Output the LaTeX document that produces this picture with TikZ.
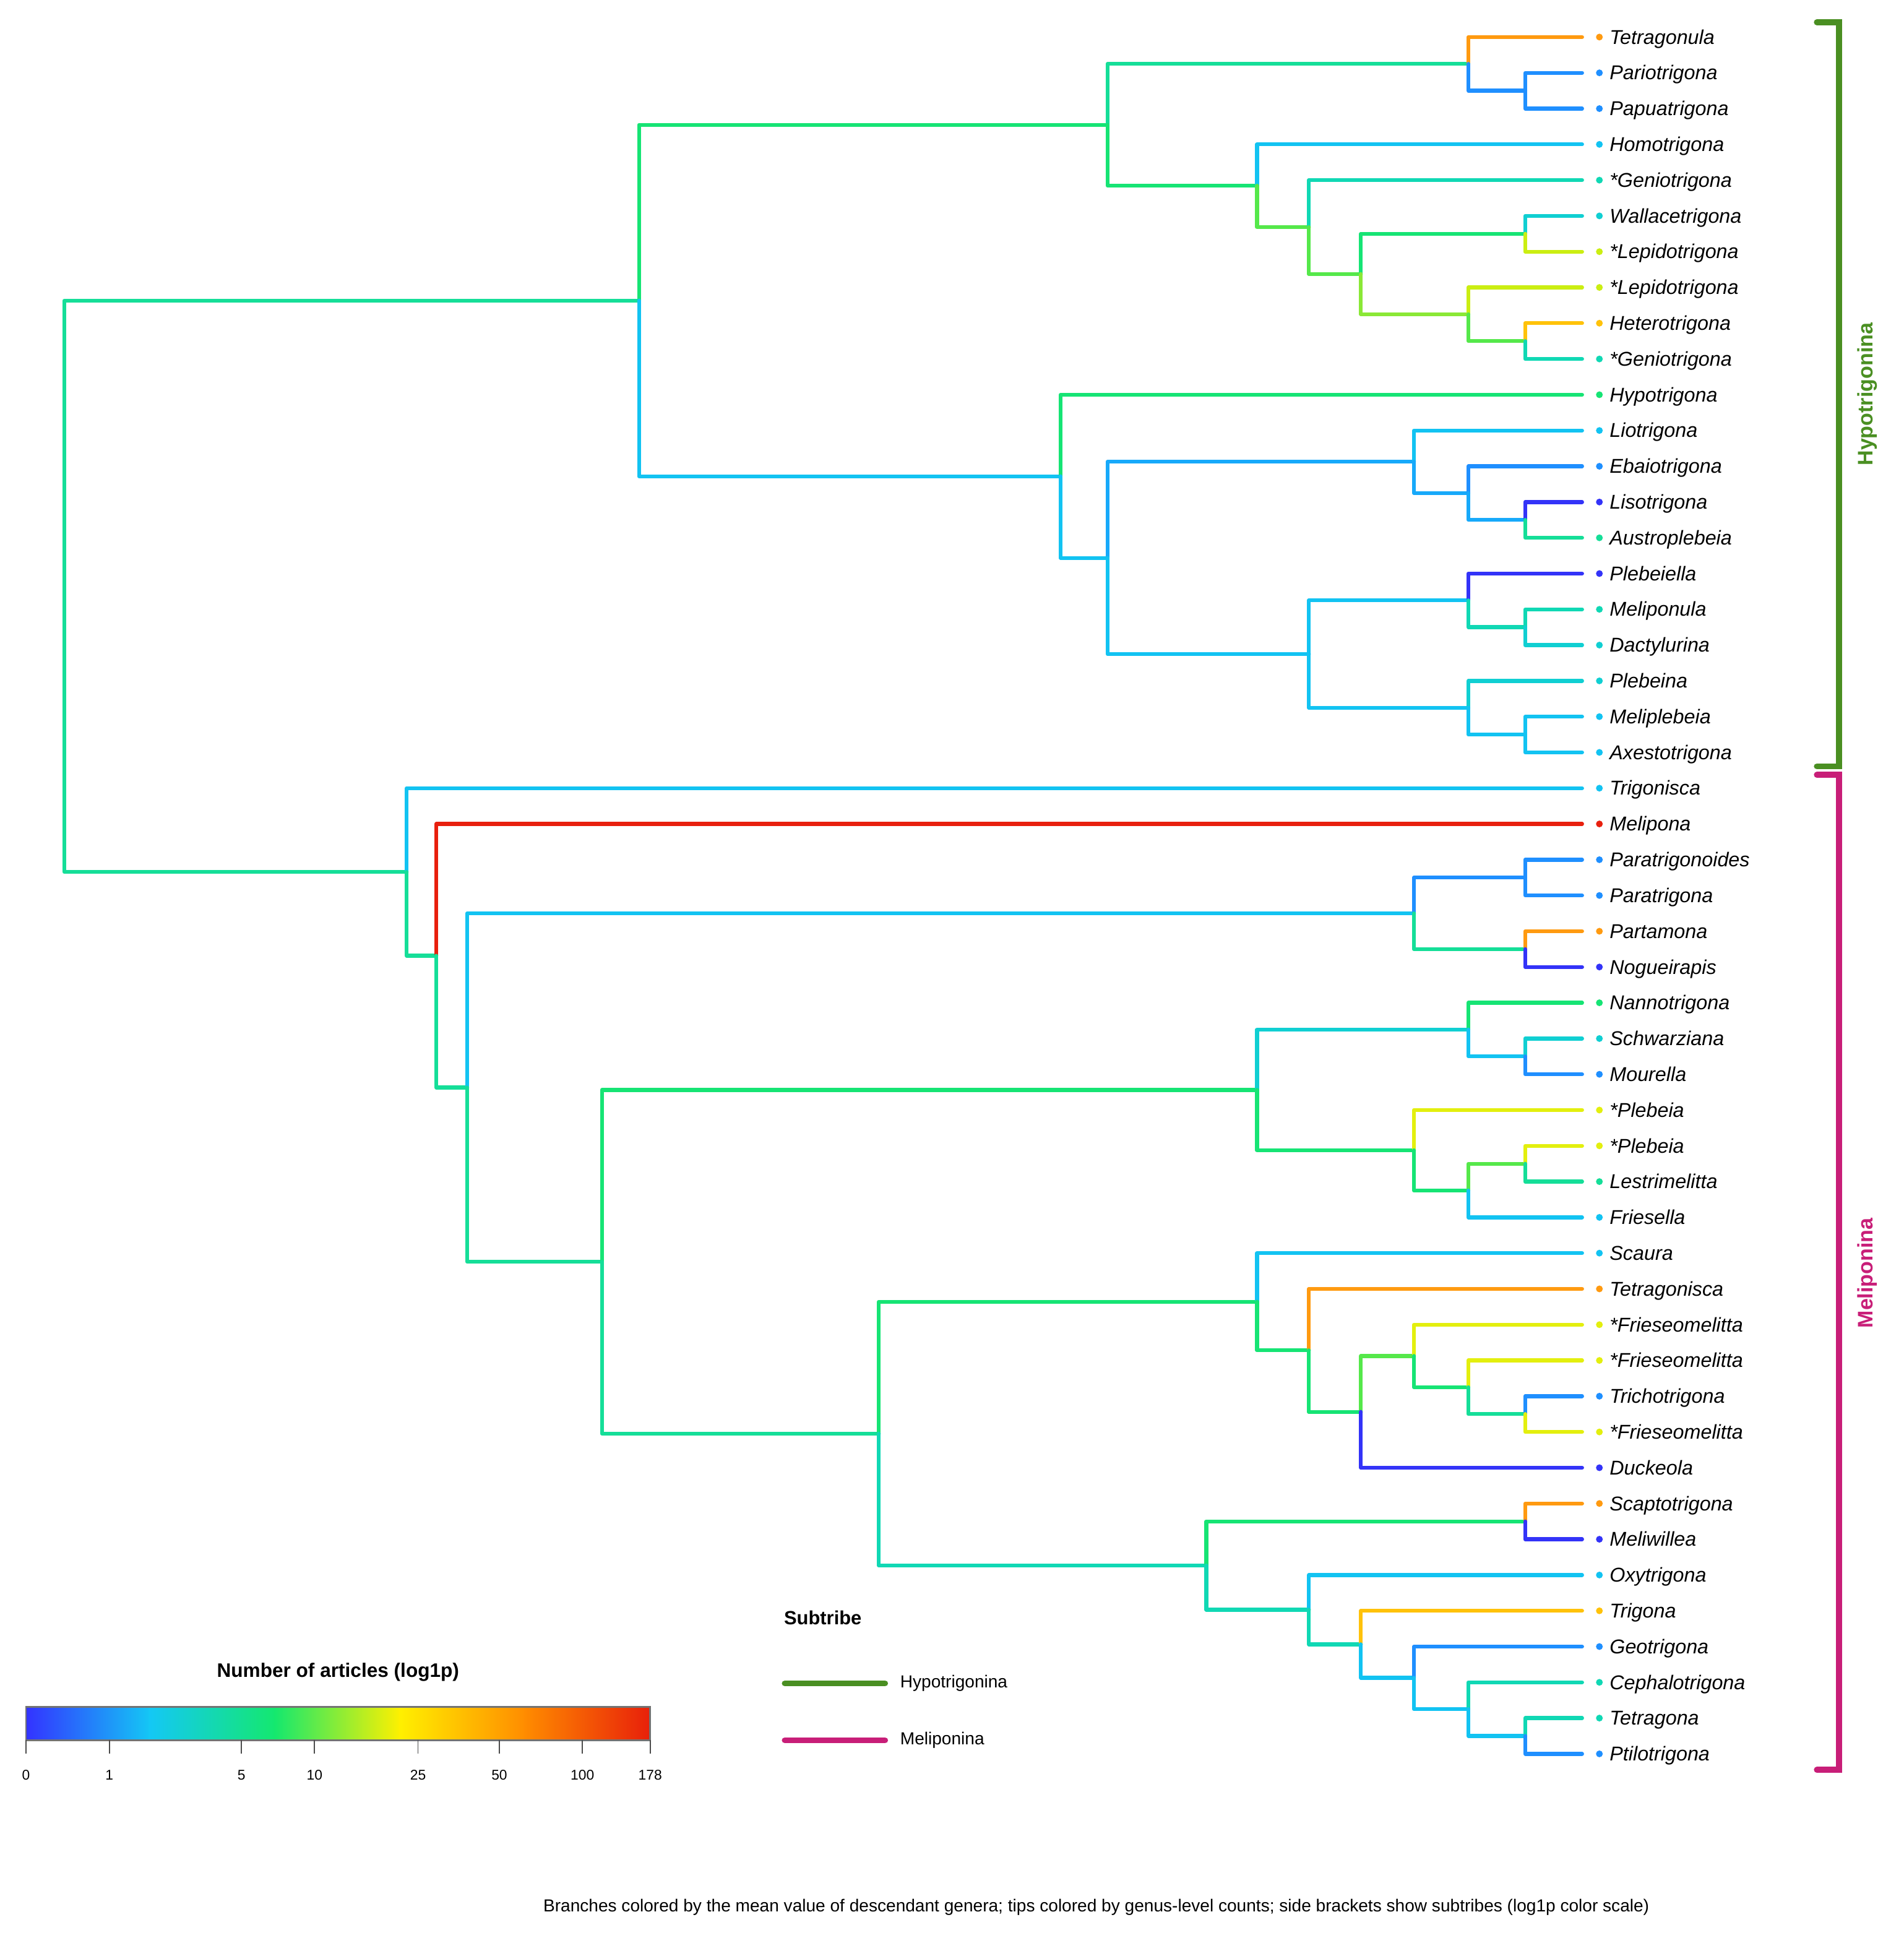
\documentclass[tikz,border=0pt]{standalone}
\usepackage{fontspec}
\setmainfont{Liberation Sans}
\definecolor{cBlue}{HTML}{3333F8}
\definecolor{cDodger}{HTML}{1F8FFF}
\definecolor{cSky}{HTML}{17A9FA}
\definecolor{cCyan}{HTML}{12C3F2}
\definecolor{cCyanTeal}{HTML}{10CFD2}
\definecolor{cTeal}{HTML}{10D8B4}
\definecolor{cSea}{HTML}{15DE98}
\definecolor{cGreen}{HTML}{16E474}
\definecolor{cLime}{HTML}{55E84A}
\definecolor{cYG}{HTML}{8AE836}
\definecolor{cLemon}{HTML}{CBEE12}
\definecolor{cYellow}{HTML}{E3EF0E}
\definecolor{cGold}{HTML}{FFC20A}
\definecolor{cOrange}{HTML}{FF9A10}
\definecolor{cRed}{HTML}{E8200E}
\definecolor{hypoGreen}{HTML}{4A8F22}
\definecolor{meliMag}{HTML}{C81E78}
\definecolor{sA}{HTML}{3333FF}
\definecolor{sB}{HTML}{14C8F5}
\definecolor{sC}{HTML}{14E86E}
\definecolor{sD}{HTML}{FFF000}
\definecolor{sE}{HTML}{FF8C00}
\definecolor{sF}{HTML}{E8200A}
\newcommand\settip[4]{%
  \expandafter\xdef\csname yy-#1\endcsname{\fpeval{30+(#2-1)*28.9375}}%
  \coordinate (#1) at (1280,\csname yy-#1\endcsname);
  \node[tipdot, fill=#4] (#1-dot) at (1294,\csname yy-#1\endcsname) {};
  \node[tiplab] (#1-lab) at (1302,\csname yy-#1\endcsname) {#3};
}
\newcommand\setnode[4]{%
  \expandafter\xdef\csname yy-#1\endcsname{\fpeval{(\csname yy-#3\endcsname+\csname yy-#4\endcsname)/2}}%
  \coordinate (#1) at (#2,\csname yy-#1\endcsname);
}
\newcommand\edge[3]{\draw[br, #3] (#1) |- (#2);}
\begin{document}
\begin{tikzpicture}[x=0.2mm, y=-0.2mm,
  br/.style={line width=1.8pt, line cap=round, line join=round},
  tipdot/.style={circle, inner sep=0pt, minimum size=1.1mm, draw=none},
  tiplab/.style={anchor=base west, inner sep=0pt, yshift=-3.2pt, font=\fontsize{9.2}{11}\selectfont\itshape},
  brk/.style={line width=2.8pt, line cap=round, line join=miter},
  legline/.style={line width=2.8pt, line cap=round},
  legtxt/.style={anchor=west, inner sep=0pt, font=\fontsize{8}{10}\selectfont},
  ticklab/.style={inner sep=0pt, font=\fontsize{6.5}{8}\selectfont},
  tick/.style={draw=black!70, line width=0.5pt}]
\useasboundingbox (0,0) rectangle (1540,1568);
\fill[white] (0,0) rectangle (1540,1568);
% tips
\settip{Tetragonula}{1}{Tetragonula}{cOrange}
\settip{Pariotrigona}{2}{Pariotrigona}{cDodger}
\settip{Papuatrigona}{3}{Papuatrigona}{cDodger}
\settip{Homotrigona}{4}{Homotrigona}{cCyan}
\settip{GenioA}{5}{*Geniotrigona}{cTeal}
\settip{Wallacetrigona}{6}{Wallacetrigona}{cCyanTeal}
\settip{LepidoA}{7}{*Lepidotrigona}{cLemon}
\settip{LepidoB}{8}{*Lepidotrigona}{cLemon}
\settip{Heterotrigona}{9}{Heterotrigona}{cGold}
\settip{GenioB}{10}{*Geniotrigona}{cTeal}
\settip{Hypotrigona}{11}{Hypotrigona}{cGreen}
\settip{Liotrigona}{12}{Liotrigona}{cCyan}
\settip{Ebaiotrigona}{13}{Ebaiotrigona}{cDodger}
\settip{Lisotrigona}{14}{Lisotrigona}{cBlue}
\settip{Austroplebeia}{15}{Austroplebeia}{cSea}
\settip{Plebeiella}{16}{Plebeiella}{cBlue}
\settip{Meliponula}{17}{Meliponula}{cTeal}
\settip{Dactylurina}{18}{Dactylurina}{cCyanTeal}
\settip{Plebeina}{19}{Plebeina}{cCyanTeal}
\settip{Meliplebeia}{20}{Meliplebeia}{cCyan}
\settip{Axestotrigona}{21}{Axestotrigona}{cCyan}
\settip{Trigonisca}{22}{Trigonisca}{cCyan}
\settip{Melipona}{23}{Melipona}{cRed}
\settip{Paratrigonoides}{24}{Paratrigonoides}{cDodger}
\settip{Paratrigona}{25}{Paratrigona}{cDodger}
\settip{Partamona}{26}{Partamona}{cOrange}
\settip{Nogueirapis}{27}{Nogueirapis}{cBlue}
\settip{Nannotrigona}{28}{Nannotrigona}{cGreen}
\settip{Schwarziana}{29}{Schwarziana}{cCyanTeal}
\settip{Mourella}{30}{Mourella}{cDodger}
\settip{PlebeiaA}{31}{*Plebeia}{cYellow}
\settip{PlebeiaB}{32}{*Plebeia}{cYellow}
\settip{Lestrimelitta}{33}{Lestrimelitta}{cSea}
\settip{Friesella}{34}{Friesella}{cCyan}
\settip{Scaura}{35}{Scaura}{cCyan}
\settip{Tetragonisca}{36}{Tetragonisca}{cOrange}
\settip{FriesA}{37}{*Frieseomelitta}{cYellow}
\settip{FriesB}{38}{*Frieseomelitta}{cYellow}
\settip{Trichotrigona}{39}{Trichotrigona}{cDodger}
\settip{FriesC}{40}{*Frieseomelitta}{cYellow}
\settip{Duckeola}{41}{Duckeola}{cBlue}
\settip{Scaptotrigona}{42}{Scaptotrigona}{cOrange}
\settip{Meliwillea}{43}{Meliwillea}{cBlue}
\settip{Oxytrigona}{44}{Oxytrigona}{cCyan}
\settip{Trigona}{45}{Trigona}{cGold}
\settip{Geotrigona}{46}{Geotrigona}{cDodger}
\settip{Cephalotrigona}{47}{Cephalotrigona}{cTeal}
\settip{Tetragona}{48}{Tetragona}{cTeal}
\settip{Ptilotrigona}{49}{Ptilotrigona}{cDodger}
% internal nodes
\setnode{nP}{1234}{Pariotrigona}{Papuatrigona}
\setnode{nHa}{1188}{Tetragonula}{nP}
\setnode{nW}{1234}{Wallacetrigona}{LepidoA}
\setnode{nHt}{1234}{Heterotrigona}{GenioB}
\setnode{nL}{1188}{LepidoB}{nHt}
\setnode{nHd}{1101}{nW}{nL}
\setnode{nHc}{1059}{GenioA}{nHd}
\setnode{nHb}{1017}{Homotrigona}{nHc}
\setnode{nHone}{896}{nHa}{nHb}
\setnode{nLs}{1234}{Lisotrigona}{Austroplebeia}
\setnode{nE}{1188}{Ebaiotrigona}{nLs}
\setnode{nHtb}{1144}{Liotrigona}{nE}
\setnode{nMd}{1234}{Meliponula}{Dactylurina}
\setnode{nPb}{1188}{Plebeiella}{nMd}
\setnode{nMa}{1234}{Meliplebeia}{Axestotrigona}
\setnode{nPn}{1188}{Plebeina}{nMa}
\setnode{nHtc}{1059}{nPb}{nPn}
\setnode{nHta}{896}{nHtb}{nHtc}
\setnode{nHtwo}{858}{Hypotrigona}{nHta}
\setnode{nHyp}{517}{nHone}{nHtwo}
\setnode{nPa}{1234}{Paratrigonoides}{Paratrigona}
\setnode{nPm}{1234}{Partamona}{Nogueirapis}
\setnode{nMthree}{1144}{nPa}{nPm}
\setnode{nSm}{1234}{Schwarziana}{Mourella}
\setnode{nN}{1188}{Nannotrigona}{nSm}
\setnode{nPlc}{1234}{PlebeiaB}{Lestrimelitta}
\setnode{nPlb}{1188}{nPlc}{Friesella}
\setnode{nPla}{1144}{PlebeiaA}{nPlb}
\setnode{nMfive}{1017}{nN}{nPla}
\setnode{nFc}{1234}{Trichotrigona}{FriesC}
\setnode{nFb}{1188}{FriesB}{nFc}
\setnode{nFa}{1144}{FriesA}{nFb}
\setnode{nMten}{1101}{nFa}{Duckeola}
\setnode{nMnine}{1059}{Tetragonisca}{nMten}
\setnode{nMseven}{1017}{Scaura}{nMnine}
\setnode{nSc}{1234}{Scaptotrigona}{Meliwillea}
\setnode{nTp}{1234}{Tetragona}{Ptilotrigona}
\setnode{nC}{1188}{Cephalotrigona}{nTp}
\setnode{nG}{1144}{Geotrigona}{nC}
\setnode{nT}{1101}{Trigona}{nG}
\setnode{nO}{1059}{Oxytrigona}{nT}
\setnode{nMeight}{976}{nSc}{nO}
\setnode{nMsix}{711}{nMseven}{nMeight}
\setnode{nMfour}{487}{nMfive}{nMsix}
\setnode{nMtwo}{378}{nMthree}{nMfour}
\setnode{nMone}{353}{Melipona}{nMtwo}
\setnode{nMel}{329}{Trigonisca}{nMone}
\setnode{nRoot}{52}{nHyp}{nMel}
% edges
\edge{nRoot}{nHyp}{cSea}
\edge{nRoot}{nMel}{cSea}
\edge{nHyp}{nHone}{cGreen}
\edge{nHyp}{nHtwo}{cCyan}
\edge{nHone}{nHa}{cSea}
\edge{nHone}{nHb}{cGreen}
\edge{nHa}{Tetragonula}{cOrange}
\edge{nHa}{nP}{cDodger}
\edge{nP}{Pariotrigona}{cDodger}
\edge{nP}{Papuatrigona}{cDodger}
\edge{nHb}{Homotrigona}{cCyan}
\edge{nHb}{nHc}{cLime}
\edge{nHc}{GenioA}{cTeal}
\edge{nHc}{nHd}{cLime}
\edge{nHd}{nW}{cGreen}
\edge{nHd}{nL}{cYG}
\edge{nW}{Wallacetrigona}{cCyanTeal}
\edge{nW}{LepidoA}{cLemon}
\edge{nL}{LepidoB}{cLemon}
\edge{nL}{nHt}{cLime}
\edge{nHt}{Heterotrigona}{cGold}
\edge{nHt}{GenioB}{cTeal}
\edge{nHtwo}{Hypotrigona}{cGreen}
\edge{nHtwo}{nHta}{cCyan}
\edge{nHta}{nHtb}{cSky}
\edge{nHta}{nHtc}{cCyan}
\edge{nHtb}{Liotrigona}{cCyan}
\edge{nHtb}{nE}{cSky}
\edge{nE}{Ebaiotrigona}{cDodger}
\edge{nE}{nLs}{cSky}
\edge{nLs}{Lisotrigona}{cBlue}
\edge{nLs}{Austroplebeia}{cSea}
\edge{nHtc}{nPb}{cCyan}
\edge{nHtc}{nPn}{cCyan}
\edge{nPb}{Plebeiella}{cBlue}
\edge{nPb}{nMd}{cTeal}
\edge{nMd}{Meliponula}{cTeal}
\edge{nMd}{Dactylurina}{cCyanTeal}
\edge{nPn}{Plebeina}{cCyanTeal}
\edge{nPn}{nMa}{cCyan}
\edge{nMa}{Meliplebeia}{cCyan}
\edge{nMa}{Axestotrigona}{cCyan}
\edge{nMel}{Trigonisca}{cCyan}
\edge{nMel}{nMone}{cSea}
\edge{nMone}{Melipona}{cRed}
\edge{nMone}{nMtwo}{cSea}
\edge{nMtwo}{nMthree}{cCyan}
\edge{nMtwo}{nMfour}{cSea}
\edge{nMthree}{nPa}{cDodger}
\edge{nMthree}{nPm}{cSea}
\edge{nPa}{Paratrigonoides}{cDodger}
\edge{nPa}{Paratrigona}{cDodger}
\edge{nPm}{Partamona}{cOrange}
\edge{nPm}{Nogueirapis}{cBlue}
\edge{nMfour}{nMfive}{cGreen}
\edge{nMfour}{nMsix}{cSea}
\edge{nMfive}{nN}{cCyanTeal}
\edge{nMfive}{nPla}{cGreen}
\edge{nN}{Nannotrigona}{cGreen}
\edge{nN}{nSm}{cCyan}
\edge{nSm}{Schwarziana}{cCyanTeal}
\edge{nSm}{Mourella}{cDodger}
\edge{nPla}{PlebeiaA}{cYellow}
\edge{nPla}{nPlb}{cGreen}
\edge{nPlb}{nPlc}{cLime}
\edge{nPlb}{Friesella}{cCyan}
\edge{nPlc}{PlebeiaB}{cYellow}
\edge{nPlc}{Lestrimelitta}{cSea}
\edge{nMsix}{nMseven}{cGreen}
\edge{nMsix}{nMeight}{cTeal}
\edge{nMseven}{Scaura}{cCyan}
\edge{nMseven}{nMnine}{cGreen}
\edge{nMnine}{Tetragonisca}{cOrange}
\edge{nMnine}{nMten}{cGreen}
\edge{nMten}{nFa}{cLime}
\edge{nMten}{Duckeola}{cBlue}
\edge{nFa}{FriesA}{cYellow}
\edge{nFa}{nFb}{cGreen}
\edge{nFb}{FriesB}{cYellow}
\edge{nFb}{nFc}{cSea}
\edge{nFc}{Trichotrigona}{cDodger}
\edge{nFc}{FriesC}{cYellow}
\edge{nMeight}{nSc}{cGreen}
\edge{nMeight}{nO}{cTeal}
\edge{nSc}{Scaptotrigona}{cOrange}
\edge{nSc}{Meliwillea}{cBlue}
\edge{nO}{Oxytrigona}{cCyan}
\edge{nO}{nT}{cTeal}
\edge{nT}{Trigona}{cGold}
\edge{nT}{nG}{cCyan}
\edge{nG}{Geotrigona}{cDodger}
\edge{nG}{nC}{cCyan}
\edge{nC}{Cephalotrigona}{cTeal}
\edge{nC}{nTp}{cCyan}
\edge{nTp}{Tetragona}{cTeal}
\edge{nTp}{Ptilotrigona}{cDodger}
% subtribe brackets
\coordinate (hbA) at (1470,18); \coordinate (hbB) at (1488,18);
\coordinate (hbC) at (1488,620); \coordinate (hbD) at (1470,620);
\coordinate (mbA) at (1470,627); \coordinate (mbB) at (1488,627);
\coordinate (mbC) at (1488,1432); \coordinate (mbD) at (1470,1432);
\draw[brk, hypoGreen] (hbA) -- (hbB) -- (hbC) -- (hbD);
\draw[brk, meliMag] (mbA) -- (mbB) -- (mbC) -- (mbD);
\node[rotate=90, inner sep=0pt, text=hypoGreen, font=\fontsize{9.7}{11}\selectfont\bfseries] (hypLab) at (1511,319) {Hypotrigonina};
\node[rotate=90, inner sep=0pt, text=meliMag, font=\fontsize{9.7}{11}\selectfont\bfseries] (melLab) at (1511,1030) {Meliponina};
% colour bar legend
\node[inner sep=0pt, font=\fontsize{9}{11}\selectfont\bfseries] (cbTitle) at (273.5,1353) {Number of articles (log1p)};
\shade[left color=sA, right color=sB] (21,1381) rectangle (122.5,1408);
\shade[left color=sB, right color=sC] (121,1381) rectangle (223.5,1408);
\shade[left color=sC, right color=sD] (222,1381) rectangle (324.5,1408);
\shade[left color=sD, right color=sE] (323,1381) rectangle (425.5,1408);
\shade[left color=sE, right color=sF] (424,1381) rectangle (526,1408);
\draw[black!55, line width=0.8pt] (21,1381) rectangle (526,1408);
\foreach \xx/\lab in {21/0, 88.5/1, 195.4/5, 254.5/10, 338.2/25, 404/50, 471.2/100, 526/178}{
  \draw[tick] (\xx,1408) -- (\xx,1419);
  \node[ticklab] at (\xx,1436) {\lab};
}
% subtribe legend
\node[anchor=west, inner sep=0pt, font=\fontsize{8.8}{10}\selectfont\bfseries] (stTitle) at (634,1309) {Subtribe};
\coordinate (lgA1) at (635,1362); \coordinate (lgA2) at (716,1362);
\coordinate (lgB1) at (635,1408); \coordinate (lgB2) at (716,1408);
\draw[legline, hypoGreen] (lgA1) -- (lgA2);
\draw[legline, meliMag] (lgB1) -- (lgB2);
\node[legtxt] (lgAt) at (728,1362) {Hypotrigonina};
\node[legtxt] (lgBt) at (728,1408) {Meliponina};
% caption
\node[inner sep=0pt, font=\fontsize{8}{10}\selectfont] (caption) at (887,1543) {Branches colored by the mean value of descendant genera; tips colored by genus-level counts; side brackets show subtribes (log1p color scale)};
\end{tikzpicture}
\end{document}
